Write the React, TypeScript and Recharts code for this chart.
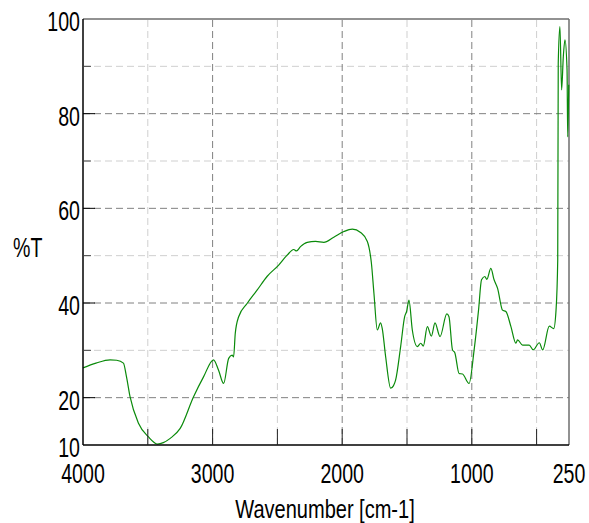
import React from "react";
import { Line, LineChart, ReferenceLine, XAxis, YAxis } from "recharts";

// wavenumber (cm-1) and %T, high to low wavenumber
const wavenumbers = [
  4000, 3900, 3791, 3740, 3688, 3665, 3637, 3572, 3495, 3425, 3380, 3327, 3250,
  3147, 3070, 2993, 2954, 2915, 2876, 2850, 2838, 2825, 2799, 2734, 2657, 2580,
  2490, 2425, 2374, 2353, 2322, 2270, 2206, 2142, 2065, 1987, 1922, 1858, 1806,
  1781, 1775, 1755, 1729, 1704, 1691, 1665, 1626, 1605, 1588, 1549, 1518, 1503,
  1485, 1459, 1420, 1394, 1374, 1343, 1312, 1284, 1245, 1193, 1176, 1149, 1131,
  1098, 1072, 1021, 982, 948, 925, 899, 884, 853, 828, 801, 763, 737, 698, 660,
  647, 608, 557, 526, 479, 453, 402, 368, 350, 337, 333, 320, 307, 294, 281, 265,
  260, 252,
];
const transmittance = [
  26.3, 27.3, 28.0, 27.9, 27.3, 24.5, 20.2, 14.6, 11.7, 10.2, 10.5, 11.4, 13.5,
  20.2, 24.4, 28.0, 25.8, 23.0, 28.3, 29.0, 28.6, 33.6, 37.1, 39.9, 42.7, 45.6,
  48.0, 50.1, 51.3, 51.0, 51.9, 52.8, 53.0, 52.8, 53.9, 55.1, 55.6, 54.9, 53.0,
  49.8, 48.5, 42.0, 34.3, 35.8, 34.6, 28.7, 22.0, 22.5, 23.7, 30.8, 37.1, 38.2,
  40.6, 34.3, 30.8, 31.5, 30.9, 35.0, 33.0, 35.8, 32.9, 37.7, 37.1, 30.1, 29.5,
  25.1, 25.0, 23.0, 30.1, 38.5, 44.9, 45.6, 45.0, 47.3, 44.9, 43.1, 38.5, 38.2,
  35.0, 31.5, 32.2, 31.1, 31.1, 30.1, 31.6, 30.1, 35.1, 34.6, 38.5, 49.1, 90.6,
  98.4, 85.0, 92.0, 95.6, 89.2, 75.1, 86.1,
];

const xTicks = [4000, 3500, 3000, 2500, 2000, 1500, 1000, 500, 250];
const xLabels = [4000, 3000, 2000, 1000, 250];
const xMajorGrid = [3000, 2000, 1000];
const xMinorGrid = [3500, 2500, 1500, 500];

const yTicks = [10, 20, 30, 40, 50, 60, 70, 80, 90, 100];
const yLabels = [10, 20, 40, 60, 80, 100];
const yMajorGrid = [20, 40, 60, 80];
const yMinorGrid = [30, 50, 70, 90];

const data = wavenumbers.map((wn, i) => ({ wn, t: transmittance[i] }));

const FONT = "'Liberation Sans', Arial, sans-serif";

const XTick = (props: any) => {
  const { x, y, payload } = props;
  const v = payload.value;
  const edge = v === 4000 || v === 250;
  return (
    <g>
      {!edge && <line x1={x} y1={y} x2={x} y2={y - 16} stroke="#222" strokeWidth={1} />}
      {xLabels.includes(v) && (
        <text
          transform={`translate(${x},${y + 38}) scale(0.7,1)`}
          textAnchor="middle"
          fontSize={28}
          fontFamily={FONT}
          fill="#000"
        >
          {v}
        </text>
      )}
    </g>
  );
};

const YTick = (props: any) => {
  const { x, y, payload } = props;
  const v = payload.value;
  const edge = v === 10 || v === 100;
  const major = yMajorGrid.includes(v);
  return (
    <g>
      {!edge && (
        <line x1={x} y1={y} x2={x + (major ? 12 : 8)} y2={y} stroke={major ? "#000" : "#444"} strokeWidth={1} />
      )}
      {yLabels.includes(v) && (
        <text
          transform={`translate(${x - 3},${y + 12}) scale(0.7,1)`}
          textAnchor="end"
          fontSize={28}
          fontFamily={FONT}
          fill="#000"
        >
          {v}
        </text>
      )}
    </g>
  );
};

export default function App() {
  return (
    <div style={{ position: "relative", width: 581, height: 515, margin: "8px 0 0 8px" }}>
      <style>{"html,body{margin:0;overflow:hidden}"}</style>
      <LineChart
        width={581}
        height={515}
        data={data}
        margin={{ top: 11, right: 20, left: 0, bottom: 0 }}
        style={{ overflow: "visible" }}
      >
        {xMinorGrid.map((v) => (
          <ReferenceLine key={`xm${v}`} x={v} stroke="#cfcfcf" strokeDasharray="7 4" />
        ))}
        {yMinorGrid.map((v) => (
          <ReferenceLine key={`ym${v}`} y={v} stroke="#cfcfcf" strokeDasharray="7 4" />
        ))}
        {xMajorGrid.map((v) => (
          <ReferenceLine key={`xM${v}`} x={v} stroke="#808080" strokeDasharray="7 4" />
        ))}
        {yMajorGrid.map((v) => (
          <ReferenceLine key={`yM${v}`} y={v} stroke="#808080" strokeDasharray="7 4" />
        ))}
        <ReferenceLine y={100} stroke="#6e6e6e" strokeWidth={1.5} />
        <ReferenceLine x={250} stroke="#6e6e6e" strokeWidth={1.5} />
        <XAxis
          dataKey="wn"
          type="number"
          domain={[250, 4000]}
          reversed
          ticks={xTicks}
          interval={0}
          height={78}
          tickSize={0}
          tickMargin={0}
          tickLine={false}
          axisLine={{ stroke: "#000", strokeWidth: 1.5 }}
          tick={XTick}
        />
        <YAxis
          type="number"
          domain={[10, 100]}
          ticks={yTicks}
          interval={0}
          width={75}
          tickSize={0}
          tickMargin={0}
          tickLine={false}
          axisLine={{ stroke: "#000", strokeWidth: 1.5 }}
          tick={YTick}
        />
        <Line
          type="monotone"
          dataKey="t"
          stroke="#0a8a0a"
          strokeWidth={1.2}
          dot={false}
          isAnimationActive={false}
        />
      </LineChart>
      <svg
        width={581}
        height={515}
        style={{ position: "absolute", left: 0, top: 0, pointerEvents: "none", overflow: "visible" }}
      >
        <text transform="translate(5,249) scale(0.7,1)" fontSize={28} fontFamily={FONT} fill="#000">
          %T
        </text>
        <text
          transform="translate(317,510) scale(0.77,1)"
          textAnchor="middle"
          fontSize={26}
          fontFamily={FONT}
          fill="#000"
        >
          Wavenumber [cm-1]
        </text>
      </svg>
    </div>
  );
}
